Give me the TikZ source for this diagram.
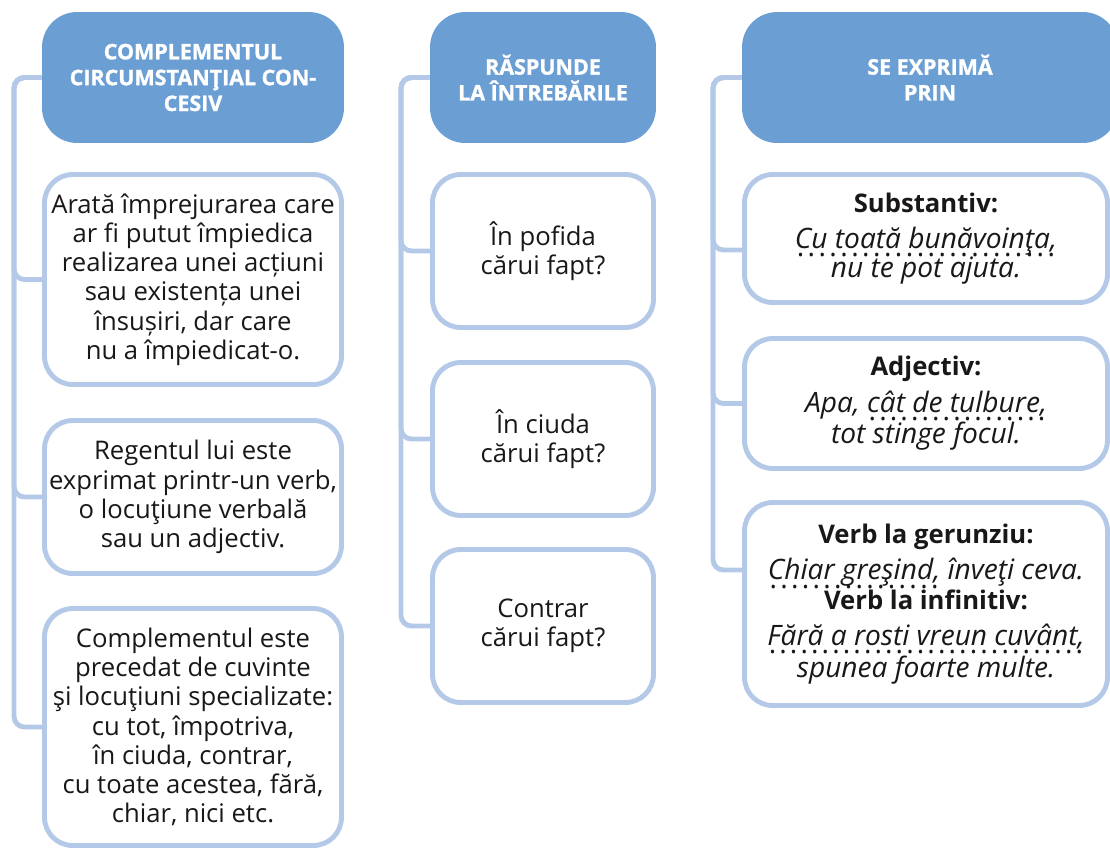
\documentclass[tikz,border=0pt]{standalone}
\usepackage{fontspec}
\setmainfont{Open Sans}
\newfontfamily\headfont[FakeBold=1.2]{Open Sans}
\definecolor{headblue}{HTML}{6B9FD4}
\definecolor{lineblue}{HTML}{B4C9E8}
\definecolor{ink}{HTML}{1A1718}
% dotted underline for the example words
\newcommand\dotline[1]{\setbox0\hbox{#1}\rlap{\raisebox{-4.6pt}{\hbox to\wd0{\xleaders\hbox to 6pt{\hss\upshape.\hss}\hfill}}}\box0\relax}
\newcommand\ex[1]{{\fontsize{16}{16.4}\selectfont\itshape #1}}
\begin{document}
\begin{tikzpicture}[x=0.02cm,y=-0.02cm,every node/.style={font=\fontsize{14.6}{16.6}\selectfont,text=ink,align=center,inner sep=0pt},
  head/.style={fill=headblue,rounded corners=20pt,minimum height=2.62cm,text=white,font=\fontsize{12.2}{14.7}\selectfont\headfont\bfseries},
  item/.style={draw=lineblue,line width=2.8pt,fill=white,rounded corners=16pt},
  link/.style={draw=lineblue,line width=2.8pt,rounded corners=6pt}]
\useasboundingbox (0,0) rectangle (1110,850);
% column 1
\node[head,minimum width=6.04cm] (h1) at (193,77.5) {COMPLEMENTUL\\CIRCUMSTANŢIAL CON-\\CESIV};
\node[item,minimum width=5.94cm,minimum height=4.2cm] (b11) at (193,279.5) {Arată împrejurarea care\\ar fi putut împiedica\\realizarea unei acțiuni\\sau existența unei\\însușiri, dar care\\nu a împiedicat-o.};
\node[item,minimum width=5.94cm,minimum height=3.06cm] (b12) at (193,497) {Regentul lui este\\exprimat printr-un verb,\\o locuţiune verbală\\sau un adjectiv.};
\node[item,minimum width=5.94cm,minimum height=4.74cm] (b13) at (193,727) {Complementul este\\precedat de cuvinte\\şi locuţiuni specializate:\\cu tot, împotriva,\\în ciuda, contrar,\\cu toate acestea, fără,\\chiar, nici etc.};
% column 2
\node[head,minimum width=4.52cm] (h2) at (543,77.5) {RĂSPUNDE\\LA ÎNTREBĂRILE};
\node[item,minimum width=4.42cm,minimum height=3.06cm] (b21) at (543,251) {În pofida\\cărui fapt?};
\node[item,minimum width=4.42cm,minimum height=3.06cm] (b22) at (543,439) {În ciuda\\cărui fapt?};
\node[item,minimum width=4.42cm,minimum height=3.06cm] (b23) at (543,626) {Contrar\\cărui fapt?};
% column 3
\node[head,minimum width=7.52cm] (h3) at (930,77.5) {SE EXPRIMĂ\\PRIN};
\node[item,minimum width=7.26cm,minimum height=2.56cm] (b31) at (926,238.5) {\textbf{Substantiv:}\\[4pt]\ex{\dotline{Cu toată bunăvoinţa,}}\\\ex{nu te pot ajuta.}};
\node[item,minimum width=7.26cm,minimum height=2.6cm] (b32) at (926,403.5) {\textbf{Adjectiv:}\\[4pt]\ex{Apa, \dotline{cât de tulbure,}}\\\ex{tot stinge focul.}};
\node[item,minimum width=7.26cm,minimum height=4.06cm] (b33) at (926,604) {\textbf{Verb la gerunziu:}\\[4pt]\ex{\dotline{Chiar greşind,} înveţi ceva.}\\\textbf{Verb la infinitiv:}\\[4pt]\ex{\dotline{Fără a rosti vreun cuvânt,}}\\\ex{spunea foarte multe.}};
% connectors
\coordinate (v1) at (14,77.5); \coordinate (v2) at (401,77.5); \coordinate (v3) at (713,77.5);
\foreach \b in {b11,b12,b13} \draw[link] (h1.west) -- (v1) |- (\b.west);
\foreach \b in {b21,b22,b23} \draw[link] (h2.west) -- (v2) |- (\b.west);
\draw[link] (h3.west) -- (v3) |- ([yshift=-0.23cm]b31.west);
\draw[link] (h3.west) -- (v3) |- (b32.west);
\draw[link] (h3.west) -- (v3) |- ([yshift=0.68cm]b33.west);
\end{tikzpicture}
\end{document}
